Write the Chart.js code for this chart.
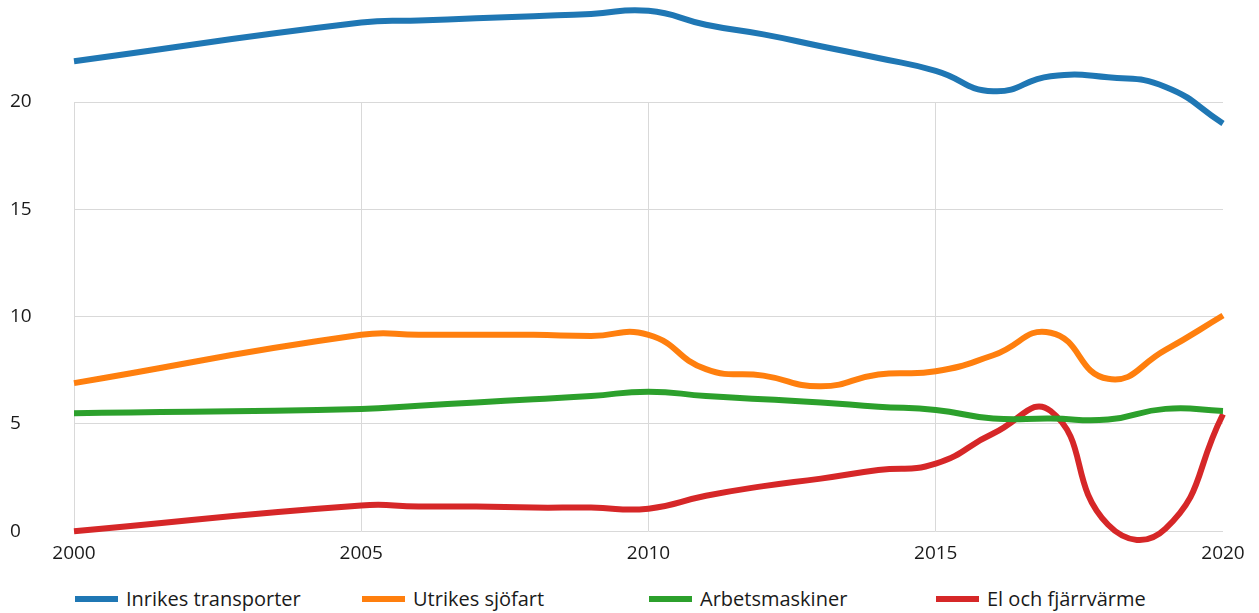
<!DOCTYPE html>
<html>
<head>
<meta charset="utf-8">
<script src="https://cdn.jsdelivr.net/npm/chart.js@4/dist/chart.umd.min.js"></script>
<style>
    body { margin: 0; background: #fff; font-family: "Open Sans", sans-serif; }
    #wrapper { position: relative; width: 1259px; height: 580px; }
    #legend { position: absolute; left: 75px; top: 585px; display: flex; }
    #legend .item { width: 287px; display: flex; align-items: center; font-size: 20px; color: #1a1a1a; }
    #legend .swatch { width: 43px; height: 6px; margin-right: 8px; }
</style>
</head>
<body>
<div id="wrapper"><canvas id="Scheme"></canvas></div>
<div id="legend"></div>
<script>
let years = [2000, 2001, 2002, 2003, 2004, 2005, 2006, 2007, 2008, 2009, 2010,
             2011, 2012, 2013, 2014, 2015, 2016, 2017, 2018, 2019, 2020],
    names = ['Inrikes transporter', 'Utrikes sjöfart', 'Arbetsmaskiner', 'El och fjärrvärme'],
    colors = ['#1f77b4', '#ff7f0e', '#2ca02c', '#d62728'],
    yTicks = [0, 5, 10, 15, 20];

let inrikes = [21.9, null, null, null, null, 23.7, 23.8, 23.9, 24.0, 24.1, 24.25,
               23.6, 23.15, 22.6, 22.05, 21.45, 20.5, 21.2, 21.15, 20.7, 19.0],
    utrikes = [6.9, null, null, null, null, 9.15, 9.15, 9.15, 9.15, 9.1, 9.15,
               7.55, 7.25, 6.75, 7.3, 7.45, 8.2, 9.25, 7.1, 8.45, 10.05],
    arbets = [5.5, null, null, null, null, 5.7, 5.85, 6.0, 6.15, 6.3, 6.5,
              6.3, 6.15, 6.0, 5.8, 5.65, 5.25, 5.25, 5.2, 5.7, 5.6],
    elFjarr = [0, null, null, null, null, 1.2, 1.15, 1.15, 1.1, 1.1, 1.05,
               1.65, 2.1, 2.45, 2.85, 3.15, 4.55, 5.6, 0.3, 0.12, 5.45];

let series = [inrikes, utrikes, arbets, elFjarr];

let datasets = series.map(function (data, i) {
    return {
        label: names[i],
        data: data,
        borderColor: colors[i],
        backgroundColor: colors[i],
        borderWidth: 6,
        pointRadius: 0,
        tension: 0.5,
        capBezierPoints: false,
        spanGaps: true,
        clip: false
    };
});

const ctx = document.getElementById('Scheme').getContext('2d');
const chart = new Chart(ctx, {
    type: 'line',
    data: { labels: years, datasets: datasets },
    options: {
        responsive: true,
        maintainAspectRatio: false,
        animation: false,
        layout: { padding: { top: 102, left: 10, right: 36, bottom: 4 } },
        plugins: { legend: { display: false }, tooltip: { enabled: false } },
        scales: {
            x: {
                border: { display: false },
                grid: {
                    drawTicks: false,
                    lineWidth: 1,
                    color: function (c) {
                        return (c.index % 5 === 0 && c.index !== 20) ? '#d9d9d9' : 'rgba(0,0,0,0)';
                    }
                },
                ticks: {
                    autoSkip: false,
                    maxRotation: 0,
                    padding: 11,
                    color: '#1a1a1a',
                    font: { family: 'Open Sans', size: 19 },
                    callback: function (v, i) { return i % 5 === 0 ? years[i] : ''; }
                }
            },
            y: {
                min: 0,
                max: 20,
                border: { display: false },
                afterFit: function (scale) { scale.width = 64; },
                afterBuildTicks: function (scale) {
                    scale.ticks = yTicks.map(function (v) { return { value: v }; });
                },
                grid: { drawTicks: false, color: '#d9d9d9', lineWidth: 1 },
                ticks: {
                    crossAlign: 'far',
                    color: '#1a1a1a',
                    font: { family: 'Open Sans', size: 19 }
                }
            }
        }
    }
});

let legendHtml = '';
chart.data.datasets.forEach(function (ds) {
    legendHtml += '<div class="item"><span class="swatch" style="background:' + ds.borderColor + '"></span>' + ds.label + '</div>';
});
document.querySelector('#legend').innerHTML = legendHtml;
</script>
</body>
</html>
